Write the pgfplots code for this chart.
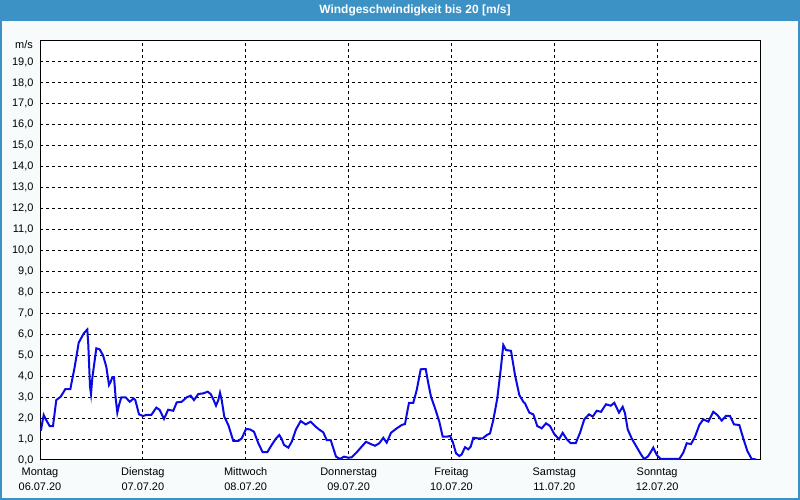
\documentclass[border=0pt]{standalone}
\usepackage{pgfplots}
\pgfplotsset{compat=1.18}
\usepackage{fontspec}
\setmainfont{Liberation Sans}
\definecolor{titleblue}{RGB}{60,146,197}
\definecolor{bgc}{RGB}{248,251,251}
\definecolor{lineblue}{RGB}{10,10,230}
\begin{document}
\begin{tikzpicture}[x=1bp,y=1bp]
\fill[bgc] (0,0) rectangle (800,500);
\fill[titleblue] (0,479) rectangle (800,500);
\draw[titleblue, line width=2bp] (1,1) rectangle (799,499);
\node[text=white, font=\fontsize{12}{14}\selectfont\bfseries] at (415,489.5) {Windgeschwindigkeit bis 20 [m/s]};
\node[anchor=east, font=\fontsize{11}{13}\selectfont, inner sep=0pt] at (33,455) {m/s};
\begin{axis}[
  at={(40bp,40bp)}, anchor=south west,
  scale only axis, width=720bp, height=419bp,
  xmin=0, xmax=168, ymin=0, ymax=20,
  axis background/.style={fill=white},
  axis line style={black, line width=1bp},
  xtick={0,24,48,72,96,120,144},
  xticklabels={{Montag\\06.07.20},{Dienstag\\07.07.20},{Mittwoch\\08.07.20},{Donnerstag\\09.07.20},{Freitag\\10.07.20},{Samstag\\11.07.20},{Sonntag\\12.07.20}},
  ytick={0,1,...,19},
  major tick length=0pt,
  grid=major,
  major grid style={black, line width=1bp, dash pattern=on 3bp off 3bp},
  xticklabel style={align=center, font=\fontsize{11}{15}\selectfont, yshift=-4bp},
  yticklabel style={font=\fontsize{11}{13}\selectfont, xshift=-3bp},
  /pgf/number format/.cd, fixed, fixed zerofill, precision=1, use comma, assume math mode=true,
]
\addplot[lineblue, line width=2bp, mark=none] coordinates {
(0.2,1.4) (0.86,2.15) (1.47,1.9) (2.26,1.62) (3.03,1.62) (3.8,2.86) (4.83,3.02) (5.9,3.38) (7.07,3.38)
(8.1,4.45) (9.03,5.6) (10.2,6.04) (11.04,6.23) (11.27,5.49) (11.67,3.5) (11.9,3.15) (12.2,3.9)
(13.14,5.33) (13.93,5.28) (14.7,5.0) (15.47,4.45) (16.1,3.58) (16.5,3.74) (16.87,3.95) (17.27,3.95)
(17.66,2.94) (18.04,2.26) (18.43,2.62) (18.97,2.99) (20.0,2.99) (20.93,2.78) (21.86,2.94) (22.24,2.86)
(23.1,2.18) (24.03,2.1) (24.8,2.15) (25.97,2.15) (27.14,2.5) (27.93,2.39) (28.93,1.96) (29.9,2.4)
(31.1,2.35) (31.9,2.75) (33.06,2.78) (34.23,2.99) (35.16,3.07) (35.93,2.86) (36.94,3.15) (38.1,3.18)
(39.13,3.26) (39.83,3.15) (40.44,2.9) (41.07,2.59) (41.6,2.86) (42.0,3.21) (42.4,2.86) (43.0,2.07)
(43.94,1.67) (45.1,0.91) (46.27,0.91) (47.06,1.03) (48.07,1.48) (49.0,1.46) (49.93,1.35) (50.94,0.8)
(51.96,0.37) (53.04,0.37) (54.06,0.72) (55.07,1.03) (55.84,1.19) (56.4,1.0) (56.93,0.72) (57.94,0.59)
(58.73,0.87) (59.73,1.46) (60.83,1.86) (62.0,1.7) (63.16,1.83) (64.17,1.62) (65.1,1.46) (66.1,1.32)
(66.9,0.95) (67.83,0.95) (69.07,0.16) (70.0,0.05) (70.93,0.16) (71.94,0.11) (72.73,0.13) (74.04,0.4)
(75.06,0.64) (76.07,0.87) (77.16,0.76) (78.17,0.68) (79.17,0.8) (80.1,1.06) (80.9,0.83) (81.9,1.3)
(83.23,1.51) (84.4,1.67) (85.17,1.72) (85.6,2.2) (86.1,2.73) (87.1,2.73) (87.9,3.34) (88.83,4.33)
(90.0,4.34) (90.6,3.66) (91.23,3.02) (92.17,2.47) (93.17,1.83) (93.96,1.11) (94.9,1.11) (95.67,1.15)
(96.3,0.87) (97.07,0.32) (97.84,0.19) (98.4,0.27) (99.17,0.61) (99.94,0.51) (100.5,0.64) (101.1,1.06)
(102.27,1.03) (103.3,1.03) (104.23,1.19) (105.0,1.27) (105.77,1.91) (106.7,2.94) (107.57,4.45) (108.1,5.49)
(108.73,5.25) (109.9,5.21) (110.83,4.06) (111.84,3.1) (112.77,2.78) (113.17,2.7) (114.17,2.26) (115.1,2.18)
(116.03,1.62) (117.06,1.51) (118.07,1.75) (119.0,1.62) (120.0,1.24) (121.1,0.99) (121.96,1.3) (122.9,0.99)
(123.83,0.8) (125.0,0.8) (126.0,1.3) (127.0,1.94) (128.1,2.18) (128.96,2.07) (129.9,2.35) (130.9,2.3)
(132.07,2.66) (133.16,2.59) (134.0,2.73) (135.1,2.26) (135.96,2.54) (136.5,2.23) (137.13,1.46) (138.06,1.03)
(139.07,0.67) (140.16,0.29) (140.93,0.05) (141.8,0.16) (142.33,0.32) (143.1,0.59) (143.9,0.24) (144.83,0.05)
(146.23,0.05) (149.17,0.05) (150.1,0.35) (150.9,0.8) (151.9,0.76) (152.83,1.11) (153.84,1.67) (154.77,1.94)
(155.94,1.83) (157.1,2.3) (158.04,2.15) (159.06,1.88) (160.07,2.11) (161.0,2.1) (161.93,1.7) (163.17,1.67)
(164.1,1.03) (165.04,0.43) (166.06,0.05) (167.07,0.03)
};
\end{axis}
\end{tikzpicture}
\end{document}
